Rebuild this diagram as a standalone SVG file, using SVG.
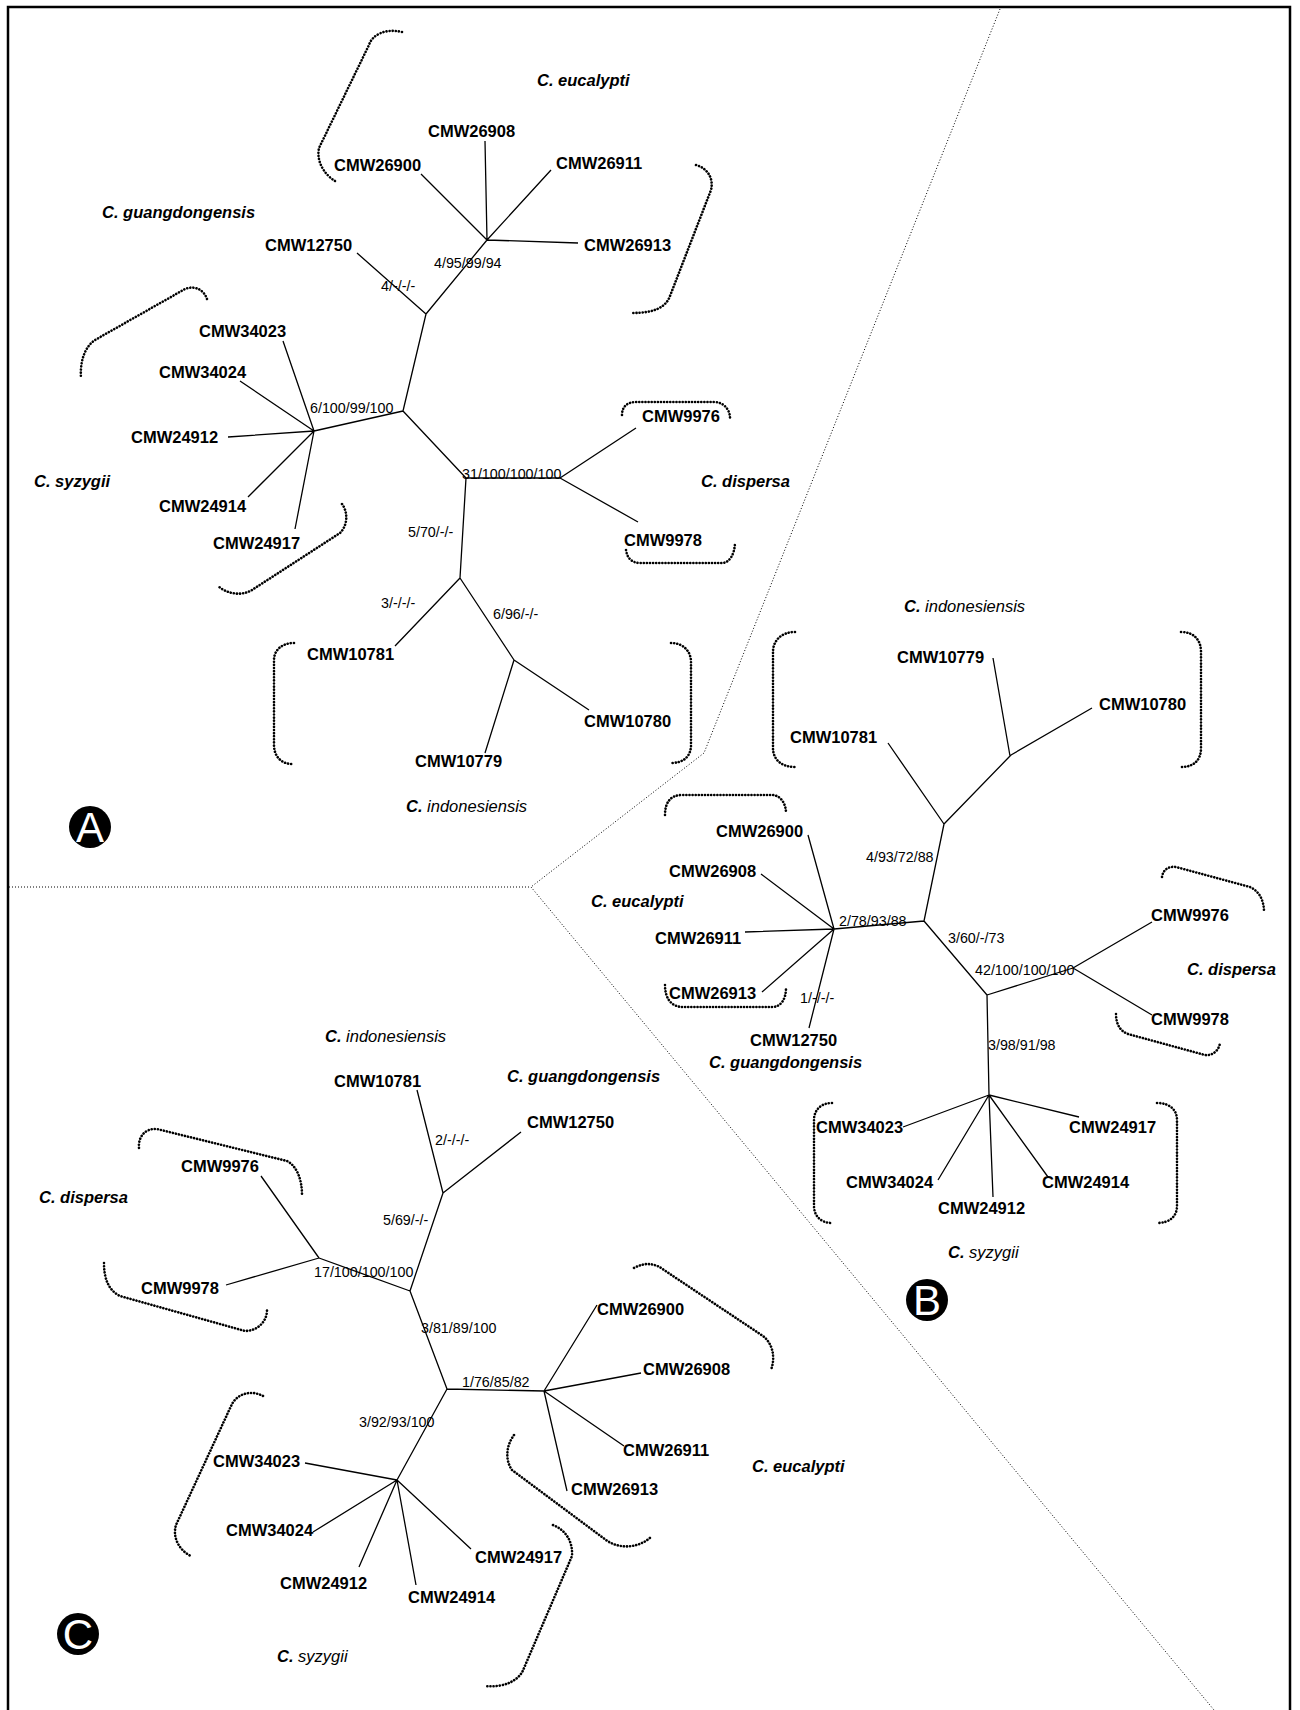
<svg xmlns="http://www.w3.org/2000/svg" width="1300" height="1710" viewBox="0 0 1300 1710">
<style>
.frame{fill:none;stroke:#000;stroke-width:2.5}
.br{fill:none;stroke:#000;stroke-width:1.3}
.bk{fill:none;stroke:#000;stroke-width:2.6;stroke-linecap:round;stroke-dasharray:0.1 3}
.dv{fill:none;stroke:#000;stroke-width:1;stroke-dasharray:1 2}
text{font-family:"Liberation Sans",Arial,Helvetica,sans-serif}
.t{font-weight:bold;font-size:16.5px}
.sp{font-weight:bold;font-style:italic;font-size:16.5px}
.nr{font-weight:normal}
.sv{font-size:14.3px}
.lt{font-size:42px;fill:#fff;text-anchor:middle}
</style>
<rect width="1300" height="1710" fill="#fff"/>
<rect class="frame" x="8" y="7" width="1282" height="1720"/>

<g id="dividers">
<path class="dv" d="M1000,9 L704,753 L531,887"/>
<path class="dv" d="M9,887 L531,887 L1214,1710"/>
</g>

<g id="connectors">
<!-- Panel A -->
<path class="br" d="M487,240 L421,174 M487,240 L485,141 M487,240 L551,170 M487,240 L578,243 M487,240 L426,314 M357,253 L426,314 M426,314 L403,411 M403,411 L314,431 M314,431 L283,341 M314,431 L240,381 M314,431 L228,437 M314,431 L248,497 M314,431 L295,529 M403,411 L466,478 M466,478 L560,478 M560,478 L636,428 M560,478 L638,522 M466,478 L460,578 M460,578 L395,646 M460,578 L514,660 M514,660 L485,753 M514,660 L589,710"/>
<!-- Panel B -->
<path class="br" d="M993,658 L1010,756 M1092,708 L1011,755 M1011,755 L944,824 M888,743 L944,824 M944,824 L924,921 M834,929 L808,835 M834,929 L761,874 M834,929 L745,932 M834,929 L762,992 M834,929 L809,1028 M834,929 L924,921 M924,921 L987,995 M987,995 L1073,968 M1073,968 L1152,922 M1073,968 L1152,1015 M987,995 L989,1095 M989,1095 L903,1127 M989,1095 L938,1180 M989,1095 L993,1197 M989,1095 L1048,1177 M989,1095 L1079,1117"/>
<!-- Panel C -->
<path class="br" d="M417,1090 L443,1193 M521,1132 L443,1193 M443,1193 L410,1291 M319,1258 L410,1291 M319,1258 L261,1176 M319,1258 L226,1285 M410,1291 L447,1389 M447,1389 L544,1391 M544,1391 L597,1305 M544,1391 L641,1373 M544,1391 L624,1446 M544,1391 L567,1491 M447,1389 L397,1480 M397,1480 L305,1463 M397,1480 L313,1532 M397,1480 L359,1567 M397,1480 L416,1585 M397,1480 L471,1549"/>
</g>

<g id="brackets">
<!-- A -->
<path class="bk" d="M402,32 C385,28 372,35 369,45 L319,148 C316,162 325,175 335,181"/>
<path class="bk" d="M696,165 C707,168 714,178 711,190 L670,296 C666,307 655,313 632,313"/>
<path class="bk" d="M207,299 C204,290 195,285 185,289 L95,340 C83,348 80,365 81,378"/>
<path class="bk" d="M342,504 C348,512 348,525 340,533 L252,590 C240,597 226,593 218,586"/>
<path class="bk" d="M622,415 C622,406 628,402 636,402 L714,402 C724,402 730,410 730,418"/>
<path class="bk" d="M626,550 C627,558 632,563 640,563 L722,563 C730,563 735,553 735,542"/>
<path class="bk" d="M294,643 C282,643 274,650 274,660 L274,745 C274,757 282,764 292,764"/>
<path class="bk" d="M671,643 C684,643 691,652 691,662 L691,745 C691,756 684,763 671,763"/>
<!-- B -->
<path class="bk" d="M795,632 C782,632 773,640 773,652 L773,748 C773,760 782,767 795,767"/>
<path class="bk" d="M1181,632 C1194,632 1201,640 1201,652 L1201,748 C1201,760 1194,767 1181,767"/>
<path class="bk" d="M665,815 C665,803 670,795 682,795 L772,795 C780,795 786,803 786,813"/>
<path class="bk" d="M665,985 C665,998 671,1007 683,1007 L772,1007 C781,1007 786,999 786,988"/>
<path class="bk" d="M1162,877 C1163,870 1168,866 1176,867 L1250,887 C1259,891 1264,900 1264,912"/>
<path class="bk" d="M1116,1014 C1116,1024 1120,1031 1128,1034 L1205,1055 C1213,1056 1219,1050 1220,1043"/>
<path class="bk" d="M832,1103 C821,1103 814,1110 814,1120 L814,1206 C814,1216 821,1223 832,1223"/>
<path class="bk" d="M1157,1103 C1170,1103 1177,1110 1177,1120 L1177,1206 C1177,1216 1170,1223 1157,1223"/>
<!-- C -->
<path class="bk" d="M139,1148 C138,1137 145,1128 157,1129 L287,1161 C297,1166 302,1180 302,1195"/>
<path class="bk" d="M104,1263 C104,1278 108,1290 120,1296 L245,1331 C257,1331 267,1322 267,1310"/>
<path class="bk" d="M634,1268 C645,1262 655,1263 664,1270 L763,1336 C772,1343 776,1356 771,1370"/>
<path class="bk" d="M514,1435 C506,1446 505,1460 512,1470 L606,1540 C620,1550 640,1548 652,1536"/>
<path class="bk" d="M263,1396 C252,1390 238,1393 232,1404 L176,1525 C172,1538 180,1551 191,1556"/>
<path class="bk" d="M553,1525 C566,1530 573,1542 572,1556 L524,1668 C520,1680 505,1688 485,1686"/>
</g>

<g id="support">
<text class="sv" x="434" y="268">4/95/99/94</text>
<text class="sv" x="381" y="291">4/-/-/-</text>
<text class="sv" x="310" y="413">6/100/99/100</text>
<text class="sv" x="462" y="479">31/100/100/100</text>
<text class="sv" x="408" y="537">5/70/-/-</text>
<text class="sv" x="381" y="608">3/-/-/-</text>
<text class="sv" x="493" y="619">6/96/-/-</text>
<text class="sv" x="866" y="862">4/93/72/88</text>
<text class="sv" x="839" y="926">2/78/93/88</text>
<text class="sv" x="948" y="943">3/60/-/73</text>
<text class="sv" x="975" y="975">42/100/100/100</text>
<text class="sv" x="800" y="1003">1/-/-/-</text>
<text class="sv" x="988" y="1050">3/98/91/98</text>
<text class="sv" x="435" y="1145">2/-/-/-</text>
<text class="sv" x="383" y="1225">5/69/-/-</text>
<text class="sv" x="314" y="1277">17/100/100/100</text>
<text class="sv" x="421" y="1333">3/81/89/100</text>
<text class="sv" x="462" y="1387">1/76/85/82</text>
<text class="sv" x="359" y="1427">3/92/93/100</text>
</g>

<g id="panelA">
<g id="A-eucalypti"><text class="sp" x="537" y="86">C. eucalypti</text></g>
<g id="A-CMW26908"><text class="t" x="428" y="137">CMW26908</text></g>
<g id="A-CMW26900"><text class="t" x="334" y="171">CMW26900</text></g>
<g id="A-CMW26911"><text class="t" x="556" y="169">CMW26911</text></g>
<g id="A-CMW26913"><text class="t" x="584" y="251">CMW26913</text></g>
<g id="A-guangdongensis"><text class="sp" x="102" y="218">C. guangdongensis</text></g>
<g id="A-CMW12750"><text class="t" x="265" y="251">CMW12750</text></g>
<g id="A-CMW34023"><text class="t" x="199" y="337">CMW34023</text></g>
<g id="A-CMW34024"><text class="t" x="159" y="378">CMW34024</text></g>
<g id="A-CMW24912"><text class="t" x="131" y="443">CMW24912</text></g>
<g id="A-syzygii"><text class="sp" x="34" y="487">C. syzygii</text></g>
<g id="A-CMW24914"><text class="t" x="159" y="512">CMW24914</text></g>
<g id="A-CMW24917"><text class="t" x="213" y="549">CMW24917</text></g>
<g id="A-CMW9976"><text class="t" x="642" y="422">CMW9976</text></g>
<g id="A-dispersa"><text class="sp" x="701" y="487">C. dispersa</text></g>
<g id="A-CMW9978"><text class="t" x="624" y="546">CMW9978</text></g>
<g id="A-CMW10781"><text class="t" x="307" y="660">CMW10781</text></g>
<g id="A-CMW10780"><text class="t" x="584" y="727">CMW10780</text></g>
<g id="A-CMW10779"><text class="t" x="415" y="767">CMW10779</text></g>
<g id="A-indonesiensis"><text class="sp" x="406" y="812">C. <tspan class="nr">indonesiensis</tspan></text></g>
<g id="A-badge"><circle cx="90" cy="827" r="21"/><text class="lt" x="90" y="842">A</text></g>
</g>

<g id="panelB">
<g id="B-indonesiensis"><text class="sp" x="904" y="612">C. <tspan class="nr">indonesiensis</tspan></text></g>
<g id="B-CMW10779"><text class="t" x="897" y="663">CMW10779</text></g>
<g id="B-CMW10780"><text class="t" x="1099" y="710">CMW10780</text></g>
<g id="B-CMW10781"><text class="t" x="790" y="743">CMW10781</text></g>
<g id="B-CMW26900"><text class="t" x="716" y="837">CMW26900</text></g>
<g id="B-CMW26908"><text class="t" x="669" y="877">CMW26908</text></g>
<g id="B-eucalypti"><text class="sp" x="591" y="907">C. eucalypti</text></g>
<g id="B-CMW26911"><text class="t" x="655" y="944">CMW26911</text></g>
<g id="B-CMW26913"><text class="t" x="669" y="999">CMW26913</text></g>
<g id="B-CMW12750"><text class="t" x="750" y="1046">CMW12750</text></g>
<g id="B-guangdongensis"><text class="sp" x="709" y="1068">C. guangdongensis</text></g>
<g id="B-CMW9976"><text class="t" x="1151" y="921">CMW9976</text></g>
<g id="B-dispersa"><text class="sp" x="1187" y="975">C. dispersa</text></g>
<g id="B-CMW9978"><text class="t" x="1151" y="1025">CMW9978</text></g>
<g id="B-CMW34023"><text class="t" x="816" y="1133">CMW34023</text></g>
<g id="B-CMW24917"><text class="t" x="1069" y="1133">CMW24917</text></g>
<g id="B-CMW34024"><text class="t" x="846" y="1188">CMW34024</text></g>
<g id="B-CMW24914"><text class="t" x="1042" y="1188">CMW24914</text></g>
<g id="B-CMW24912"><text class="t" x="938" y="1214">CMW24912</text></g>
<g id="B-syzygii"><text class="sp" x="948" y="1258">C. <tspan class="nr">syzygii</tspan></text></g>
<g id="B-badge"><circle cx="927" cy="1300" r="21"/><text class="lt" x="927" y="1315">B</text></g>
</g>

<g id="panelC">
<g id="C-indonesiensis"><text class="sp" x="325" y="1042">C. <tspan class="nr">indonesiensis</tspan></text></g>
<g id="C-guangdongensis"><text class="sp" x="507" y="1082">C. guangdongensis</text></g>
<g id="C-CMW10781"><text class="t" x="334" y="1087">CMW10781</text></g>
<g id="C-CMW12750"><text class="t" x="527" y="1128">CMW12750</text></g>
<g id="C-CMW9976"><text class="t" x="181" y="1172">CMW9976</text></g>
<g id="C-dispersa"><text class="sp" x="39" y="1203">C. dispersa</text></g>
<g id="C-CMW9978"><text class="t" x="141" y="1294">CMW9978</text></g>
<g id="C-CMW26900"><text class="t" x="597" y="1315">CMW26900</text></g>
<g id="C-CMW26908"><text class="t" x="643" y="1375">CMW26908</text></g>
<g id="C-CMW26911"><text class="t" x="623" y="1456">CMW26911</text></g>
<g id="C-eucalypti"><text class="sp" x="752" y="1472">C. eucalypti</text></g>
<g id="C-CMW26913"><text class="t" x="571" y="1495">CMW26913</text></g>
<g id="C-CMW34023"><text class="t" x="213" y="1467">CMW34023</text></g>
<g id="C-CMW34024"><text class="t" x="226" y="1536">CMW34024</text></g>
<g id="C-CMW24917"><text class="t" x="475" y="1563">CMW24917</text></g>
<g id="C-CMW24912"><text class="t" x="280" y="1589">CMW24912</text></g>
<g id="C-CMW24914"><text class="t" x="408" y="1603">CMW24914</text></g>
<g id="C-syzygii"><text class="sp" x="277" y="1662">C. <tspan class="nr">syzygii</tspan></text></g>
<g id="C-badge"><circle cx="78" cy="1634" r="21"/><text class="lt" x="78" y="1649">C</text></g>
</g>
</svg>
